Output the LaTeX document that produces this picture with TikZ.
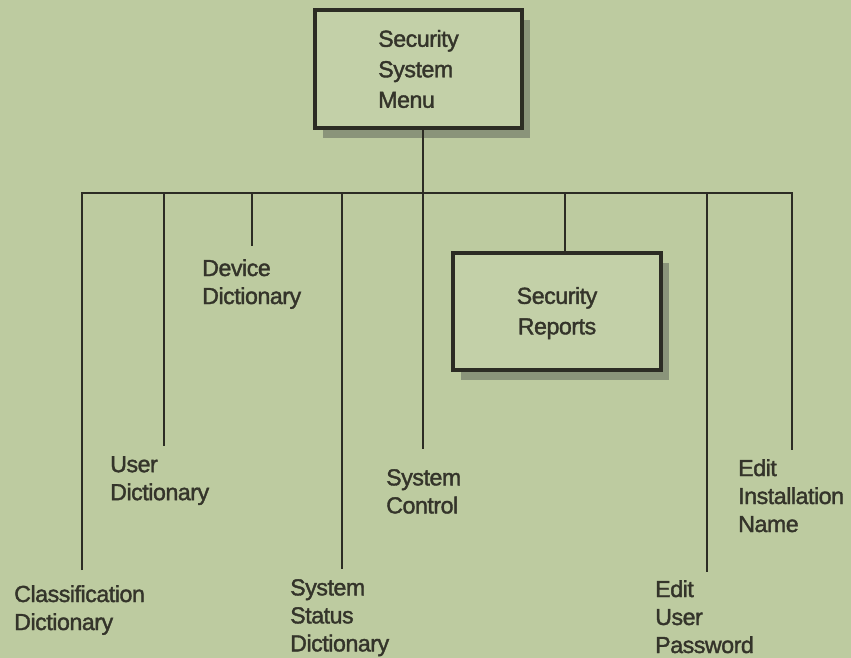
\documentclass[tikz,border=0pt]{standalone}
\usepackage{fontspec}
\setmainfont{Liberation Sans}[FakeBold=1.6, LetterSpace=-2]
\usetikzlibrary{shadows}
\definecolor{bgsage}{RGB}{189,203,160}
\definecolor{boxsage}{RGB}{195,208,168}
\definecolor{ink}{RGB}{44,44,36}
\definecolor{txt}{RGB}{52,52,42}
\definecolor{shade}{RGB}{138,148,122}

\begin{document}
\begin{tikzpicture}[x=1pt,y=-1pt,
  menubox/.style={draw=ink, line width=3.8pt, fill=boxsage, text=txt,
    inner sep=0pt, font=\fontsize{23.2}{30.5}\selectfont,
    general shadow={fill=shade, shadow xshift=8pt, shadow yshift=-10pt}},
  item/.style={anchor=north west, inner sep=0pt, align=left, text=txt,
    font=\fontsize{23.2}{28}\selectfont},
  link/.style={draw=ink, line width=2.4pt, line join=miter}]

  % page
  \useasboundingbox (0,0) rectangle (851,658);
  \fill[bgsage] (0,0) rectangle (851,658);

  % boxes
  \node[menubox, minimum width=207pt, minimum height=118pt, align=left]
    (menu) at (418.5,69) {Security\\System\\Menu};
  \node[menubox, minimum width=208pt, minimum height=117pt, align=center]
    (reports) at (557,311.5) {\rule{0pt}{20pt}Security\\Reports};

  % leaf labels
  \node[item] (cls) at (14,585)  {Classification\\Dictionary};
  \node[item] (usr) at (110,456) {User\\Dictionary};
  \node[item] (dev) at (202,259) {Device\\Dictionary};
  \node[item] (sts) at (290,579) {System\\Status\\Dictionary};
  \node[item] (ctl) at (386,469) {System\\Control};
  \node[item] (pwd) at (655,580) {Edit\\User\\Password};
  \node[item] (ins) at (738,459) {Edit\\Installation\\Name};

  % bus and branch points
  \coordinate (busL)  at (82,193);
  \coordinate (busR)  at (792,193);
  \coordinate (trunk) at (423,193);
  \coordinate (bUsr)  at (164,193);
  \coordinate (bDev)  at (252,193);
  \coordinate (bSts)  at (342,193);
  \coordinate (bRep)  at (565,193);
  \coordinate (bPwd)  at (707,193);

  % free ends of the branches
  \coordinate (eCls) at (82,570);
  \coordinate (eUsr) at (164,446);
  \coordinate (eDev) at (252,246);
  \coordinate (eSts) at (342,569);
  \coordinate (eCtl) at (423,449);
  \coordinate (ePwd) at (707,572);
  \coordinate (eIns) at (792,450);

  % connectors
  \draw[link] (menu.south -| trunk) -- (trunk);
  \draw[link] (eCls) -- (busL) -- (busR) -- (eIns);
  \draw[link] (bUsr) -- (eUsr);
  \draw[link] (bDev) -- (eDev);
  \draw[link] (bSts) -- (eSts);
  \draw[link] (trunk) -- (eCtl);
  \draw[link] (bRep) -- (reports.north -| bRep);
  \draw[link] (bPwd) -- (ePwd);
\end{tikzpicture}
\end{document}
